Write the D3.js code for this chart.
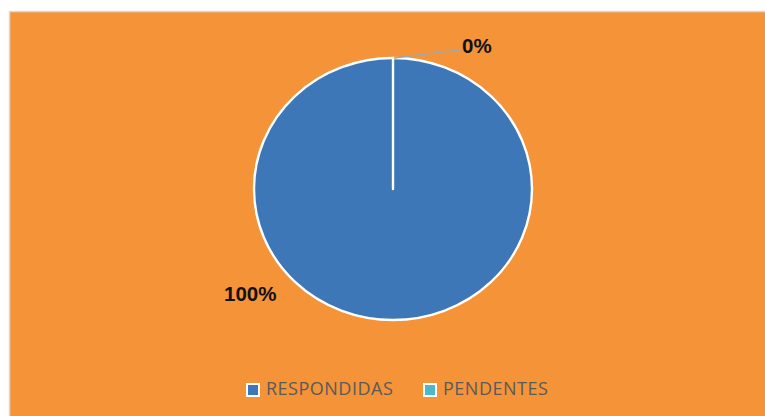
<!DOCTYPE html>
<html><head><meta charset="utf-8">
<script src="https://cdn.jsdelivr.net/npm/d3@7"></script>
<style>body{margin:0;background:#fff}svg{display:block}</style>
</head><body>
<svg id="c" width="765" height="416"></svg>
<script>
const categories = ["RESPONDIDAS", "PENDENTES"];
const values = [100, 0];
const labels = ["100%", "0%"];
const colors = ["#3D77B7", "#4BB8CC"];

const svg = d3.select("#c");
svg.append("rect").attr("x", 9.5).attr("y", 11.5).attr("width", 760).attr("height", 410)
  .attr("fill", "#F49338").attr("stroke", "#D9D9D9").attr("stroke-width", 1.5);

const cx = 393, cy = 189, rx = 139, ry = 131;
const g = svg.append("g").attr("transform", `translate(${cx},${cy})`);
const gp = g.append("g").attr("transform", `scale(1,${ry / rx})`);
const pie = d3.pie().sort(null).value(d => d)(values);
const arc = d3.arc().innerRadius(0).outerRadius(rx);
gp.selectAll("path.s").data(pie).join("path").attr("class", "s")
  .attr("d", arc).attr("fill", (d, i) => colors[i])
  .attr("stroke", "#fff").attr("stroke-width", 2.4).attr("stroke-linejoin", "round")
  .attr("vector-effect", "non-scaling-stroke");

// leader line for 0% slice
const a0 = pie[1].startAngle;
const p0 = [rx * Math.sin(a0) + 1, -ry * Math.cos(a0)];
g.append("path").attr("d", d3.line()([p0, [66, -139], [68, -139]]))
  .attr("fill", "none").attr("stroke", "#A6A6A6").attr("stroke-width", 1.5);

const lblFont = "'Liberation Sans', Arial, sans-serif";
g.append("text").attr("x", 69).attr("y", -136).text(labels[1])
  .attr("font-family", lblFont).attr("font-weight", "bold").attr("font-size", 20.5).attr("fill", "#111");
g.append("text").attr("x", -169).attr("y", 112).text(labels[0])
  .attr("font-family", lblFont).attr("font-weight", "bold").attr("font-size", 20.5).attr("fill", "#111");

// legend
const legX = [246, 423];
const lg = svg.append("g");
categories.forEach((c, i) => {
  lg.append("rect").attr("x", legX[i]).attr("y", 383).attr("width", 14).attr("height", 14)
    .attr("fill", "#fff");
  lg.append("rect").attr("x", legX[i] + 2).attr("y", 385).attr("width", 10).attr("height", 10)
    .attr("fill", colors[i]);
  lg.append("text").attr("x", legX[i] + 20).attr("y", 395).text(c)
    .attr("font-family", "'Open Sans', sans-serif").attr("font-size", 18).attr("letter-spacing", 0.5).attr("fill", "#5A5A5A");
});
</script>
</body></html>
